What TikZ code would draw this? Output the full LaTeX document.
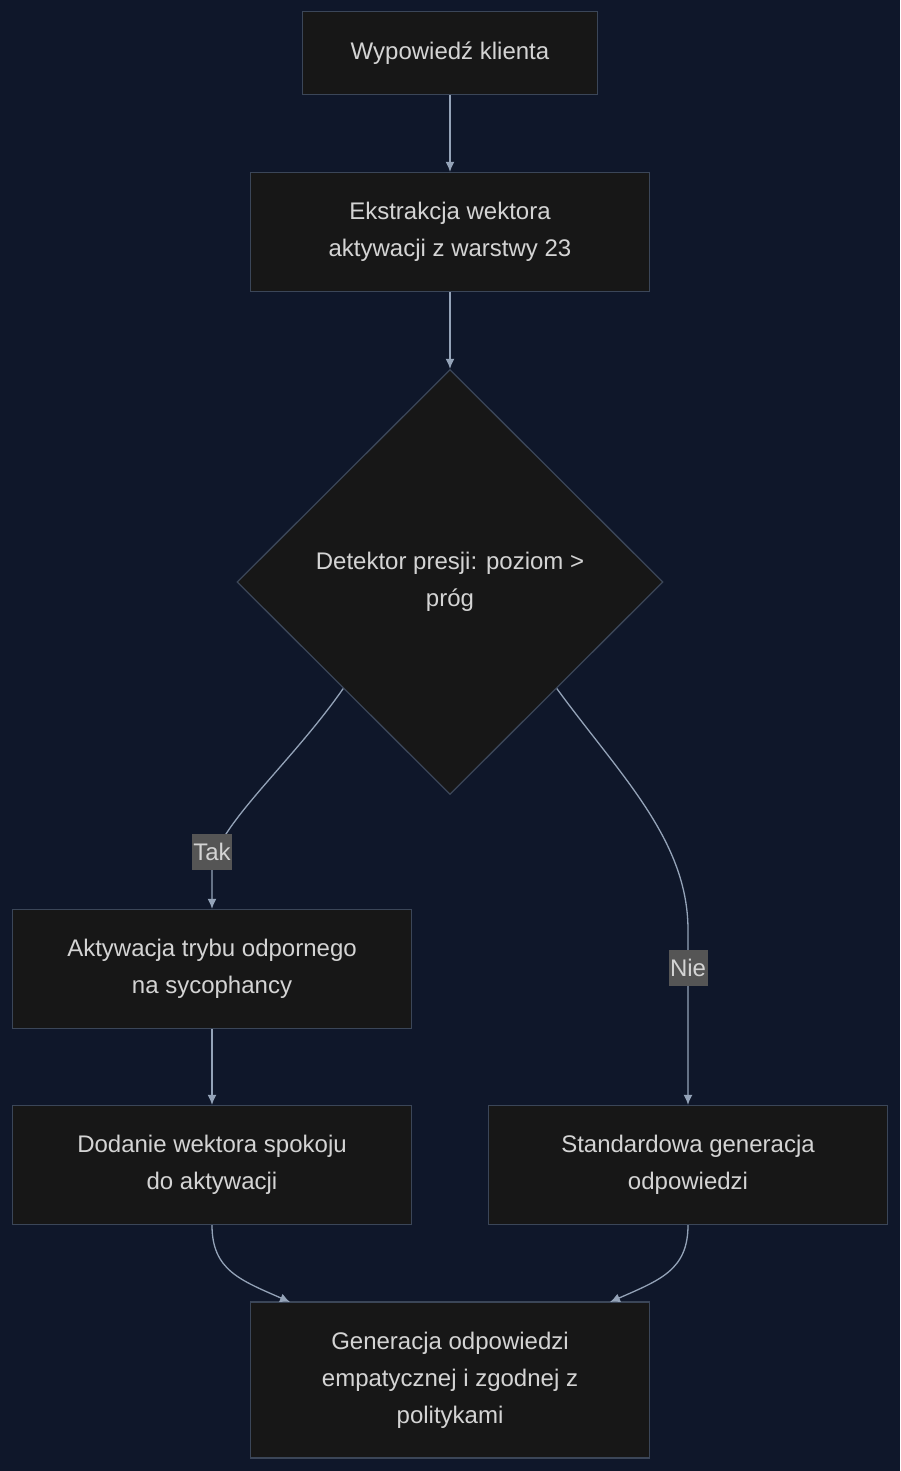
\documentclass[tikz,border=0pt]{standalone}
\usepackage{fontspec}
\setmainfont{Liberation Sans}
\usetikzlibrary{arrows.meta,shapes.geometric}
\definecolor{bgcol}{HTML}{0F172A}
\definecolor{boxfill}{HTML}{171717}
\definecolor{boxline}{HTML}{3B4658}
\definecolor{txtcol}{HTML}{D4D4D4}
\definecolor{edgecol}{HTML}{94A3B8}
\definecolor{lblfill}{HTML}{555555}
\tikzset{>={Latex[length=10pt,width=9pt]}}
\tikzset{
  box/.style={draw=boxline, fill=boxfill, text=txtcol, align=center,
    line width=1.3pt, inner sep=0pt, font=\fontsize{24pt}{37pt}\selectfont},
  decide/.style={box, diamond, minimum width=426pt, minimum height=425pt},
  flow/.style={->, draw=edgecol, line width=1.3pt},
  lbl/.style={fill=lblfill, text=txtcol, inner sep=1.5pt, minimum height=36pt,
    font=\fontsize{24pt}{28pt}\selectfont}
}
\begin{document}
\begin{tikzpicture}[x=1pt,y=-1pt]
    \fill[bgcol] (0,0) rectangle (900,1471);
    \useasboundingbox (0,0) rectangle (900,1471);
    %nodes
    \node[box, minimum width=295pt, minimum height=83pt] (wyp) at (450,53) {Wypowiedź klienta};
    \node[box, minimum width=399pt, minimum height=119pt] (ekst) at (450,232) {Ekstrakcja wektora\\aktywacji z warstwy 23};
    \node[decide] (det) at (450,582) {Detektor presji: poziom >\\próg};
    \node[box, minimum width=399pt, minimum height=119pt] (akt) at (212,969) {Aktywacja trybu odpornego\\na sycophancy};
    \node[box, minimum width=399pt, minimum height=119pt] (dod) at (212,1165) {Dodanie wektora spokoju\\do aktywacji};
    \node[box, minimum width=399pt, minimum height=119pt] (std) at (688,1165) {Standardowa generacja\\odpowiedzi};
    \node[box, minimum width=399pt, minimum height=156pt] (gen) at (450,1380) {Generacja odpowiedzi\\empatycznej i zgodnej z\\politykami};
    %edges
    \draw[flow] (wyp) -- (ekst);
    \draw[flow] (ekst) -- (det.north);
    \draw[flow] (det.south west) .. controls (290,765) and (212,830) .. (212,870) -- (akt.north);
    \draw[flow] (det.south east) .. controls (620,775) and (688,840) .. (688,930) -- (std.north);
    \draw[flow] (akt) -- (dod);
    \draw[flow] (dod.south) .. controls (212,1270) and (240,1280) .. (290,1302);
    \draw[flow] (std.south) .. controls (688,1270) and (660,1280) .. (610,1302);
    %labels
    \node[lbl] (tak) at (212,852) {Tak};
    \node[lbl] (nie) at (688,968) {Nie};
\end{tikzpicture}
\end{document}
